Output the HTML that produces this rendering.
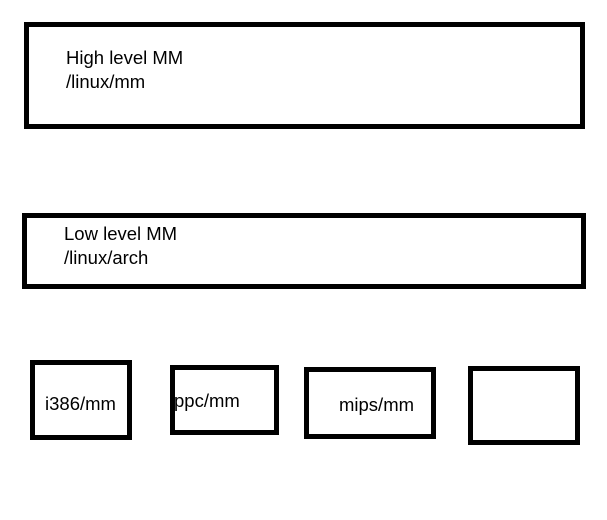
<!DOCTYPE html>
<html><head><style>
body{margin:0;width:607px;height:520px;background:#fff;position:relative;overflow:hidden;font-family:"Liberation Sans",sans-serif;font-size:18.5px;color:#000}
.b{position:absolute;border:5px solid #000;box-sizing:border-box}
.t{position:absolute;line-height:24px;white-space:nowrap}
</style></head><body>
<div class="b" style="left:24px;top:22px;width:561px;height:107px"></div>
<div class="t" style="left:66px;top:46px">High level MM<br>/linux/mm</div>
<div class="b" style="left:22px;top:213px;width:564px;height:76px"></div>
<div class="t" style="left:64px;top:222px">Low level MM<br>/linux/arch</div>
<div class="b" style="left:30px;top:360px;width:102px;height:80px"></div>
<div class="t" style="left:45px;top:392px">i386/mm</div>
<div class="b" style="left:170px;top:365px;width:109px;height:70px"></div>
<div class="t" style="left:174px;top:389px">ppc/mm</div>
<div class="b" style="left:304px;top:367px;width:132px;height:72px"></div>
<div class="t" style="left:339px;top:393px">mips/mm</div>
<div class="b" style="left:468px;top:366px;width:112px;height:79px"></div>
</body></html>
